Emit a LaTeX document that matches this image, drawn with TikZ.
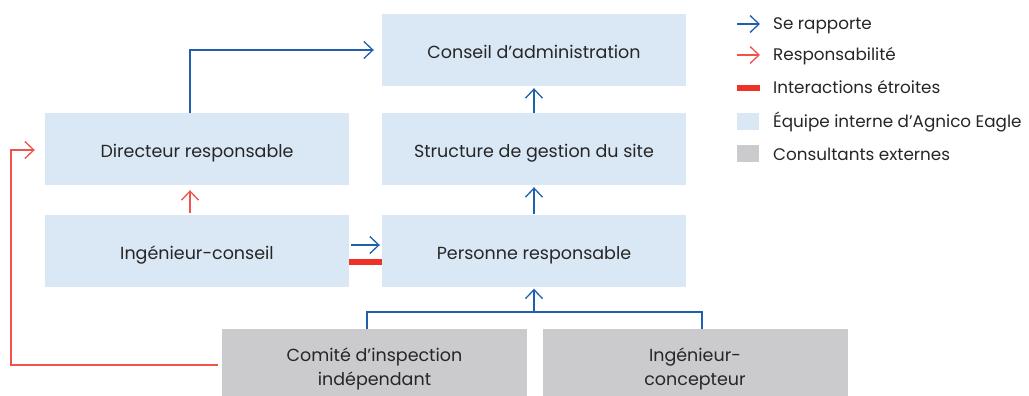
\documentclass[tikz,border=0pt]{standalone}
\usepackage{fontspec}
\setmainfont{Poppins}
\usetikzlibrary{arrows.meta}
\definecolor{boxblue}{HTML}{DAE8F6}
\definecolor{boxgray}{HTML}{CBCBCD}
\definecolor{linkblue}{HTML}{1F5FAD}
\definecolor{linkred}{HTML}{EF5349}
\definecolor{barred}{HTML}{EE3228}
\begin{document}
\begin{tikzpicture}[x=1pt,y=-1pt,
	font=\fontsize{17.5}{24}\selectfont,
	inner/.style={fill=boxblue,minimum width=304pt,minimum height=72pt,inner sep=0pt,text=black!85,text height=17.6pt,text depth=0pt},
	outer/.style={fill=boxgray,minimum width=305pt,minimum height=67pt,inner sep=0pt,align=center,text=black!85},
	tip/.style={-{Straight Barb[length=9pt,width=17pt,line width=1.3pt]}},
	report/.style={tip,draw=linkblue,line width=1.3pt},
	resp/.style={tip,draw=linkred,line width=1.3pt},
	legend/.style={anchor=base west,inner sep=0pt,text=black!85,font=\fontsize{16.8}{20}\selectfont}]
	\useasboundingbox (0,0) rectangle (1029,396);
	\node[inner] (conseil) at (534,50) {Conseil d’administration};
	\node[inner] (directeur) at (197,149) {Directeur responsable};
	\node[inner] (structure) at (534,149) {Structure de gestion du site};
	\node[inner] (ingconseil) at (197,250.5) {Ingénieur-conseil};
	\node[inner] (personne) at (534,250.5) {Personne responsable};
	\node[outer] (comite) at (374.5,362.5) {\rule{0pt}{26pt}Comité d’inspection\\indépendant};
	\node[outer] (concepteur) at (695,362.5) {\rule{0pt}{26pt}Ingénieur-\\concepteur};
	% liens
	\draw[report,shorten >=8pt] ([xshift=-7pt]directeur.north) |- (conseil.west);
	\draw[report,shorten >=2pt] (structure.north) -- (conseil.south);
	\draw[report,shorten >=2pt] (personne.north) -- (structure.south);
	\draw[resp,shorten <=1pt,shorten >=5pt] ([xshift=-7pt]ingconseil.north) -- ([xshift=-7pt]directeur.south);
	\draw[report,shorten <=2pt,shorten >=2pt] ([yshift=5.5pt]ingconseil.east) -- ([yshift=5.5pt]personne.west);
	\draw[draw=barred,line width=6pt] ([yshift=-11.5pt]ingconseil.east) -- ([yshift=-11.5pt]personne.west);
	\coordinate (join) at (534,312);
	\draw[draw=linkblue,line width=1.3pt] ([xshift=-7.5pt]comite.north) |- (join) -| ([xshift=7pt]concepteur.north);
	\draw[report,shorten >=2pt] (join) -- (personne.south);
	\draw[resp,shorten <=4pt,shorten >=10pt] ([yshift=-2.5pt]comite.west) -| (11,150) -- ([yshift=-1pt]directeur.west);
	% legende
	\draw[report] (737,24) -- (760,24);
	\node[legend] (lrapport) at (773,30) {Se rapporte};
	\draw[resp] (737,55) -- (760,55);
	\node[legend] (lresp) at (773,61) {Responsabilité};
	\draw[draw=barred,line width=6pt] (737,88) -- (760,88);
	\node[legend] (linter) at (773,94) {Interactions étroites};
	\fill[boxblue] (737,113) rectangle (759,130);
	\node[legend] (linterne) at (773,128) {Équipe interne d’Agnico Eagle};
	\fill[boxgray] (737,145) rectangle (759,162);
	\node[legend] (lexterne) at (773,160) {Consultants externes};
\end{tikzpicture}
\end{document}
